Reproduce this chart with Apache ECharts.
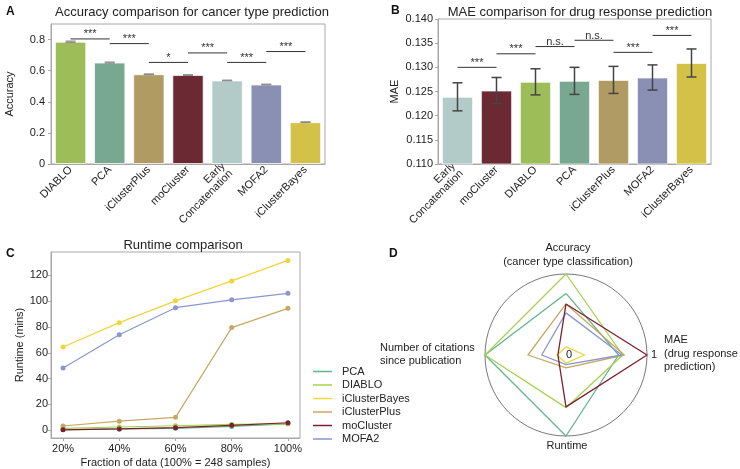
<!DOCTYPE html>
<html><head><meta charset="utf-8">
<script src="https://cdn.jsdelivr.net/npm/echarts@6/dist/echarts.min.js"></script>
<style>html,body{margin:0;padding:0;background:#fff}#c{width:740px;height:469px}</style>
</head><body><div id="c"></div>
<script>
const FONT = '"Liberation Sans", Arial, sans-serif';

// ---------- Panel A data ----------
const accCategories = ['DIABLO', 'PCA', 'iClusterPlus', 'moCluster', 'Early\nConcatenation', 'MOFA2', 'iClusterBayes'];
const accValues = [0.786, 0.652, 0.577, 0.572, 0.537, 0.511, 0.269];
const accErrors = [0.004, 0.003, 0.002, 0.002, 0.002, 0.002, 0.002];
const accYTicks = [0, 0.2, 0.4, 0.6, 0.8];
const accSigPairs = [[0, 1], [1, 2], [2, 3], [3, 4], [4, 5], [5, 6]];
const accSigHeights = [0.804, 0.774, 0.653, 0.714, 0.653, 0.723];
const accSigLabels = ['***', '***', '*', '***', '***', '***'];

// ---------- Panel B data ----------
const maeCategories = ['Early\nConcatenation', 'moCluster', 'DIABLO', 'PCA', 'iClusterPlus', 'MOFA2', 'iClusterBayes'];
const maeValues = [0.1239, 0.1252, 0.1270, 0.1272, 0.1274, 0.1279, 0.1309];
const maeErrors = [0.0029, 0.0027, 0.0027, 0.0028, 0.0028, 0.0026, 0.0029];
const maeSigPairs = [[0, 1], [1, 2], [2, 3], [3, 4], [4, 5], [5, 6]];
const maeSigHeights = [0.1300, 0.1328, 0.1343, 0.1356, 0.1331, 0.1366];
const maeSigLabels = ['***', '***', 'n.s.', 'n.s.', '***', '***'];

// ---------- Panel C data ----------
const fractions = [20, 40, 60, 80, 100];
const fractionTicks = [20, 40, 60, 80, 100];
const runtimeTicks = [0, 20, 40, 60, 80, 100, 120];
const runtimePCA = [0.5, 1, 1.5, 3, 5];
const runtimeDIABLO = [1.5, 2.5, 3.5, 4.5, 5];
const runtimeICB = [64.4, 83.3, 100.2, 115.6, 131.5];
const runtimeICP = [3.3, 7, 10, 79.5, 94.4];
const runtimeMoCluster = [0.3, 1, 2, 3.8, 5.8];
const runtimeMOFA2 = [48.2, 73.9, 94.9, 101, 106];

// ---------- Panel D data (normalised scores: Accuracy, Citations, Runtime, MAE) ----------
const radarAxes = ['Accuracy (cancer type classification)', 'Number of citations since publication', 'Runtime', 'MAE (drug response prediction)'];
const radarPCA = [0.76, 1.0, 1.0, 0.65];
const radarDIABLO = [1.0, 1.0, 0.65, 0.70];
const radarICB = [0.10, 0.11, 0.10, 0.23];
const radarICP = [0.63, 0.47, 0.16, 0.72];
const radarMoCluster = [0.63, 0.10, 0.64, 1.0];
const radarMOFA2 = [0.52, 0.30, 0.12, 0.69];

const methods = ['PCA', 'DIABLO', 'iClusterBayes', 'iClusterPlus', 'moCluster', 'MOFA2'];

// ---------- styles ----------
const barColor = {
  'DIABLO': '#9dbd59', 'PCA': '#78a890', 'iClusterPlus': '#b09b63', 'moCluster': '#6b2933',
  'Early\nConcatenation': '#b2cbc8', 'MOFA2': '#8990b4', 'iClusterBayes': '#d4c248'
};
const lineColor = {
  'PCA': '#62b48d', 'DIABLO': '#a6d24c', 'iClusterBayes': '#f0d43a',
  'iClusterPlus': '#c7a862', 'moCluster': '#7d1f2d', 'MOFA2': '#8a96d0'
};
const runtimeData = {
  'PCA': runtimePCA, 'DIABLO': runtimeDIABLO, 'iClusterBayes': runtimeICB,
  'iClusterPlus': runtimeICP, 'moCluster': runtimeMoCluster, 'MOFA2': runtimeMOFA2
};
const radarData = {
  'PCA': radarPCA, 'DIABLO': radarDIABLO, 'iClusterBayes': radarICB,
  'iClusterPlus': radarICP, 'moCluster': radarMoCluster, 'MOFA2': radarMOFA2
};

const frameColor = '#a8a8a8';
const textColor = '#222';

function errorRender(color, capW, lw) {
  return function (params, api) {
    const x = api.value(0), lo = api.value(1), hi = api.value(2);
    const p1 = api.coord([x, lo]), p2 = api.coord([x, hi]);
    const st = { stroke: color, lineWidth: lw };
    return { type: 'group', children: [
      { type: 'line', shape: { x1: p1[0], y1: p1[1], x2: p2[0], y2: p2[1] }, style: st },
      { type: 'line', shape: { x1: p1[0] - capW / 2, y1: p1[1], x2: p1[0] + capW / 2, y2: p1[1] }, style: st },
      { type: 'line', shape: { x1: p2[0] - capW / 2, y1: p2[1], x2: p2[0] + capW / 2, y2: p2[1] }, style: st }
    ]};
  };
}
function sigRender(labels) {
  return function (params, api) {
    const a = api.value(0), b = api.value(1), h = api.value(2);
    const p1 = api.coord([a, h]), p2 = api.coord([b, h]);
    return { type: 'group', children: [
      { type: 'line', shape: { x1: p1[0], y1: p1[1], x2: p2[0], y2: p2[1] }, style: { stroke: '#333', lineWidth: 1 } },
      { type: 'text', style: { text: labels[params.dataIndex], x: (p1[0] + p2[0]) / 2, y: p1[1] + 1,
        align: 'center', verticalAlign: 'bottom', fontSize: 11, fontFamily: FONT, fill: '#333' } }
    ]};
  };
}

function catAxis(gridIndex, cats) {
  return {
    type: 'category', gridIndex, data: cats,
    axisLine: { lineStyle: { color: frameColor } },
    axisTick: { alignWithLabel: true, length: 3, lineStyle: { color: frameColor } },
    axisLabel: { rotate: 45, fontSize: 11, color: textColor, fontFamily: FONT, margin: 4, interval: 0 }
  };
}

const series = [];
// Panel A bars
series.push({
  type: 'bar', xAxisIndex: 0, yAxisIndex: 0, barWidth: '80%',
  data: accValues.map((v, i) => ({ value: v, itemStyle: { color: barColor[accCategories[i]] } })),
  itemStyle: { borderColor: 'rgba(255,255,255,0.7)', borderWidth: 1 }, silent: true
});
series.push({
  type: 'custom', xAxisIndex: 0, yAxisIndex: 0, renderItem: errorRender('#8a8a8a', 10, 1.2),
  encode: { x: 0, y: [1, 2] },
  data: accValues.map((v, i) => [i, v - accErrors[i], v + accErrors[i]]), z: 5
});
series.push({
  type: 'custom', xAxisIndex: 0, yAxisIndex: 0, renderItem: sigRender(accSigLabels),
  encode: { x: [0, 1], y: 2 },
  data: accSigPairs.map((p, i) => [p[0], p[1], accSigHeights[i]]), z: 6
});
// Panel B bars
series.push({
  type: 'bar', xAxisIndex: 1, yAxisIndex: 1, barWidth: '80%',
  data: maeValues.map((v, i) => ({ value: v, itemStyle: { color: barColor[maeCategories[i]] } })),
  itemStyle: { borderColor: 'rgba(255,255,255,0.7)', borderWidth: 1 }, silent: true
});
series.push({
  type: 'custom', xAxisIndex: 1, yAxisIndex: 1, renderItem: errorRender('#444', 10, 1.5),
  encode: { x: 0, y: [1, 2] },
  data: maeValues.map((v, i) => [i, v - maeErrors[i], v + maeErrors[i]]), z: 5
});
series.push({
  type: 'custom', xAxisIndex: 1, yAxisIndex: 1, renderItem: sigRender(maeSigLabels),
  encode: { x: [0, 1], y: 2 },
  data: maeSigPairs.map((p, i) => [p[0], p[1], maeSigHeights[i]]), z: 6
});
// Panel C lines
methods.forEach(m => {
  series.push({
    type: 'line', name: m, xAxisIndex: 2, yAxisIndex: 2,
    data: fractions.map((f, i) => [f, runtimeData[m][i]]),
    symbol: 'circle', symbolSize: 5, showSymbol: true,
    itemStyle: { color: lineColor[m] }, lineStyle: { color: lineColor[m], width: 1.2 }
  });
});
// Panel D radar
['PCA', 'DIABLO', 'iClusterBayes', 'iClusterPlus', 'MOFA2', 'moCluster'].forEach(m => {
  series.push({
    type: 'radar', name: m, radarIndex: 0, symbol: 'none',
    lineStyle: { color: lineColor[m], width: 1.3 }, itemStyle: { color: lineColor[m] },
    data: [{ value: radarData[m], name: m }]
  });
});

const titleStyle = { fontSize: 13, fontWeight: 'normal', color: textColor, fontFamily: FONT };
const letterStyle = { fontSize: 12, fontWeight: 'bold', color: '#111', fontFamily: FONT };

const option = {
  animation: false,
  backgroundColor: '#fff',
  title: [
    { text: 'A', left: 1, top: 1, textStyle: letterStyle },
    { text: 'B', left: 386, top: 0, textStyle: letterStyle },
    { text: 'C', left: 1, top: 243, textStyle: letterStyle },
    { text: 'D', left: 384, top: 243, textStyle: letterStyle },
    { text: 'Accuracy comparison for cancer type prediction', left: 187, textAlign: 'center', top: 1, textStyle: titleStyle },
    { text: 'MAE comparison for drug response prediction', left: 575, textAlign: 'center', top: 1, textStyle: titleStyle },
    { text: 'Runtime comparison', left: 178, textAlign: 'center', top: 234, textStyle: titleStyle }
  ],
  grid: [
    { left: 51, top: 24, width: 274, height: 140, show: true, borderColor: frameColor, borderWidth: 1 },
    { left: 438, top: 19, width: 273, height: 145, show: true, borderColor: frameColor, borderWidth: 1 },
    { left: 51, top: 252, width: 249, height: 190, show: true, borderColor: frameColor, borderWidth: 1 }
  ],
  xAxis: [
    catAxis(0, accCategories),
    catAxis(1, maeCategories),
    {
      type: 'value', gridIndex: 2, min: 15.7, max: 104.3,
      name: 'Fraction of data (100% = 248 samples)', nameLocation: 'middle', nameGap: 19,
      nameTextStyle: { fontSize: 11, color: textColor, fontFamily: FONT },
      splitLine: { show: false },
      axisLine: { onZero: false, lineStyle: { color: frameColor } },
      axisTick: { customValues: fractionTicks, length: 3, lineStyle: { color: frameColor } },
      axisLabel: { customValues: fractionTicks, formatter: v => v + '%', fontSize: 11, color: textColor, fontFamily: FONT, margin: 5 }
    }
  ],
  yAxis: [
    {
      type: 'value', gridIndex: 0, min: 0, max: 0.9,
      name: 'Accuracy', nameLocation: 'middle', nameGap: 36,
      nameTextStyle: { fontSize: 11, color: textColor, fontFamily: FONT },
      splitLine: { show: false },
      axisLine: { show: true, lineStyle: { color: frameColor } },
      axisTick: { show: true, customValues: accYTicks, length: 3, lineStyle: { color: frameColor } },
      axisLabel: { customValues: accYTicks, formatter: v => (v === 0 ? '0' : v.toFixed(1)), fontSize: 11, color: textColor, fontFamily: FONT, margin: 6 }
    },
    {
      type: 'value', gridIndex: 1, min: 0.110, max: 0.140, interval: 0.005,
      name: 'MAE', nameLocation: 'middle', nameGap: 38,
      nameTextStyle: { fontSize: 11, color: textColor, fontFamily: FONT },
      splitLine: { show: false },
      axisLine: { show: true, lineStyle: { color: frameColor } },
      axisTick: { show: true, length: 3, lineStyle: { color: frameColor } },
      axisLabel: { formatter: v => v.toFixed(3), fontSize: 11, color: textColor, fontFamily: FONT, margin: 5 }
    },
    {
      type: 'value', gridIndex: 2, min: -6, max: 138,
      name: 'Runtime (mins)', nameLocation: 'middle', nameGap: 19,
      nameTextStyle: { fontSize: 11, color: textColor, fontFamily: FONT },
      splitLine: { show: false },
      axisLine: { show: true, lineStyle: { color: frameColor } },
      axisTick: { show: true, customValues: runtimeTicks, length: 3, lineStyle: { color: frameColor } },
      axisLabel: { customValues: runtimeTicks, fontSize: 11, color: textColor, fontFamily: FONT, margin: 3 }
    }
  ],
  radar: {
    center: [566, 355], radius: 81, shape: 'circle', splitNumber: 1,
    indicator: radarAxes.map(n => ({ name: n, min: 0, max: 1 })),
    axisName: { show: false },
    axisLine: { show: false }, axisTick: { show: false }, axisLabel: { show: false },
    splitArea: { show: false },
    splitLine: { lineStyle: { color: '#555', width: 0.8 } }
  },
  legend: {
    orient: 'vertical', left: 313, top: 366, data: methods,
    icon: 'rect', itemWidth: 19, itemHeight: 1.5, itemGap: 2.5, padding: 0,
    textStyle: { fontSize: 11, color: textColor, fontFamily: FONT, padding: [0, 0, 0, 5] }
  },
  graphic: [
    { type: 'text', style: { text: 'Accuracy\n(cancer type classification)', x: 568, y: 241, align: 'center', verticalAlign: 'top', fontSize: 11, lineHeight: 14, fontFamily: FONT, fill: textColor } },
    { type: 'text', style: { text: 'MAE\n(drug response\nprediction)', x: 664, y: 333, align: 'left', verticalAlign: 'top', fontSize: 11, lineHeight: 13.7, fontFamily: FONT, fill: textColor } },
    { type: 'text', style: { text: 'Runtime', x: 567, y: 440, align: 'center', verticalAlign: 'top', fontSize: 11, fontFamily: FONT, fill: textColor } },
    { type: 'text', style: { text: 'Number of citations\nsince publication', x: 380, y: 341, align: 'left', verticalAlign: 'top', fontSize: 11, lineHeight: 13.5, fontFamily: FONT, fill: textColor } },
    { type: 'text', style: { text: '0', x: 569, y: 355, align: 'center', verticalAlign: 'middle', fontSize: 11, fontFamily: FONT, fill: textColor } },
    { type: 'text', style: { text: '1', x: 654, y: 355, align: 'center', verticalAlign: 'middle', fontSize: 11, fontFamily: FONT, fill: textColor } }
  ],
  series
};

const chart = echarts.init(document.getElementById('c'), null, { renderer: 'canvas' });
chart.setOption(option);
</script></body></html>
